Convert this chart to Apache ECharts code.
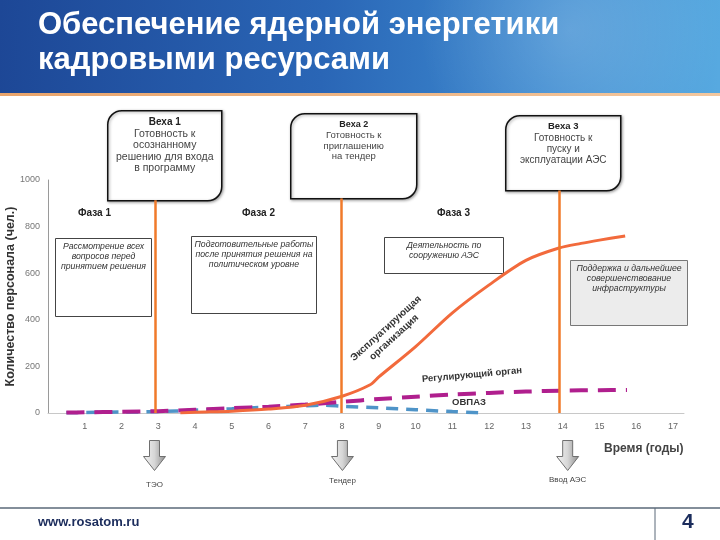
<!DOCTYPE html>
<html>
<head>
<meta charset="utf-8">
<script src="https://cdn.jsdelivr.net/npm/echarts@6/dist/echarts.min.js"></script>
<style>
  html, body { margin: 0; padding: 0; background: #fff; }
  #main { width: 720px; height: 540px; }
</style>
</head>
<body>
<div id="main"></div>
<script>
// --- data ---
const xTicks = [1, 2, 3, 4, 5, 6, 7, 8, 9, 10, 11, 12, 13, 14, 15, 16, 17];
const yTicks = [0, 200, 400, 600, 800, 1000];

// Эксплуатирующая организация
const operatorYears = [3.6, 4, 5, 6, 7, 8, 8.75, 9, 10, 11, 12, 13, 13.9, 14.5, 15, 15.7];
const operatorStaff = [0, 3, 8, 17, 33, 72, 120, 155, 285, 430, 550, 655, 708, 728, 742, 760];

// Регулирующий орган
const regulatorYears = [0.5, 1, 2, 3, 4, 5, 6, 7, 8, 9, 10, 11, 12, 13, 14, 15, 15.75];
const regulatorStaff = [2, 3, 5, 8, 14, 21, 27, 36, 48, 60, 70, 79, 86, 92, 96, 98, 99];

// ОВПАЗ
const nepioYears = [0.5, 1, 2, 3, 4, 5, 6, 7, 7.5, 8, 9, 10, 11, 11.7];
const nepioStaff = [1, 2, 4, 6, 12, 18, 25, 31, 33, 29, 22, 14, 6, 1];

// milestones (Веха 1..3): year and top of the vertical line
const milestoneYears = [2.92, 7.97, 13.9];
const milestoneTops = [913, 921, 955];

const milestoneTitles = ['Веха 1', 'Веха 2', 'Веха 3'];
const milestoneTexts = [
  'Готовность к\nосознанному\nрешению для входа\nв программу',
  'Готовность к\nприглашению\nна тендер',
  'Готовность к\nпуску и\nэксплуатации АЭС'
];
const phaseTitles = ['Фаза 1', 'Фаза 2', 'Фаза 3'];
const phaseTexts = [
  'Рассмотрение всех\nвопросов перед\nпринятием решения',
  'Подготовительные работы\nпосле принятия решения на\nполитическом уровне',
  'Деятельность по\nсооружению АЭС',
  'Поддержка и дальнейшее\nсовершенствование\nинфраструктуры'
];
const arrowLabels = ['ТЭО', 'Тендер', 'Ввод АЭС'];

const pairs = (xs, ys) => xs.map((x, i) => [x, ys[i]]);

const chart = echarts.init(document.getElementById('main'));

// rounded milestone box (top-left and bottom-right corners rounded)
function milestoneBox(x, y, w, h, title, text, fs) {
  return {
    type: 'group', left: x, top: y,
    children: [
      { type: 'rect', shape: { x: 0, y: 0, width: w, height: h, r: [14, 0, 14, 0] },
        style: { fill: '#fff', stroke: '#111', lineWidth: 1.5,
                 shadowBlur: 3, shadowOffsetX: 1, shadowOffsetY: 1, shadowColor: 'rgba(0,0,0,0.35)' } },
      { type: 'text', x: w / 2, y: 6,
        style: { text: title, font: 'bold ' + (fs - 0.5) + 'px "Liberation Sans"', fill: '#222', align: 'center' } },
      { type: 'text', x: w / 2, y: 6 + fs + 1,
        style: { text: text, font: fs + 'px "Liberation Sans"', fill: '#444', align: 'center', lineHeight: fs + 1 } }
    ]
  };
}

function phaseBox(x, y, w, h, text, fill, stroke) {
  return {
    type: 'group', left: x, top: y,
    children: [
      { type: 'rect', shape: { x: 0, y: 0, width: w, height: h },
        style: { fill: fill, stroke: stroke, lineWidth: 1 } },
      { type: 'text', x: w / 2, y: 3,
        style: { text: text, font: 'italic 8.7px "Liberation Sans"', fill: '#333', align: 'center', lineHeight: 10 } }
    ]
  };
}

function downArrow(cx, top, label, labelY) {
  return {
    type: 'group', left: cx - 12, top: top,
    children: [
      { type: 'polygon',
        shape: { points: [[7, 0], [17, 0], [17, 16], [23, 16], [12, 30], [1, 16], [7, 16]] },
        style: { fill: new echarts.graphic.LinearGradient(0, 0, 1, 0, [
                   { offset: 0, color: '#f4f4f4' }, { offset: 0.5, color: '#d6d6d6' }, { offset: 1, color: '#8c8c8c' }]),
                 stroke: '#6f6f6f', lineWidth: 1 } },
      { type: 'text', x: 12, y: labelY,
        style: { text: label, font: '8px "Liberation Sans"', fill: '#444', align: 'center' } }
    ]
  };
}

const option = {
  backgroundColor: '#fff',
  animation: false,
  grid: { left: 48, top: 180, width: 636, height: 233, containLabel: false, outerBoundsMode: 'none' },
  xAxis: {
    type: 'value', min: 0, max: 17.3, interval: 1,
    axisLine: { show: true, lineStyle: { color: '#c8c8c8', width: 1 } },
    axisTick: { show: false },
    splitLine: { show: false },
    axisLabel: {
      margin: 9, color: '#666', fontSize: 9, fontFamily: 'Liberation Sans',
      formatter: v => (xTicks.indexOf(v) >= 0 ? String(v) : '')
    }
  },
  yAxis: {
    type: 'value', min: 0, max: 1000, interval: 200,
    name: 'Количество персонала (чел.)',
    nameLocation: 'middle', nameGap: 31, nameRotate: 90, nameMoveOverlap: false,
    nameTextStyle: { color: '#333', fontSize: 12.5, fontWeight: 'bold', fontFamily: 'Liberation Sans' },
    axisLine: { show: true, lineStyle: { color: '#9a9a9a', width: 1 } },
    axisTick: { show: false },
    splitLine: { show: false },
    axisLabel: {
      margin: 8, color: '#777', fontSize: 9, fontFamily: 'Liberation Sans',
      formatter: v => (yTicks.indexOf(v) >= 0 ? String(v) : '')
    }
  },
  series: [
    {
      name: 'ОВПАЗ', type: 'line', data: pairs(nepioYears, nepioStaff),
      smooth: 0.3, symbol: 'none',
      lineStyle: { color: '#4f94c8', width: 3.5, type: [12, 8] }
    },
    {
      name: 'Регулирующий орган', type: 'line', data: pairs(regulatorYears, regulatorStaff),
      smooth: 0.3, symbol: 'none',
      lineStyle: { color: '#b01f8e', width: 4, type: [18, 10] }
    },
    {
      name: 'Эксплуатирующая организация', type: 'line', data: pairs(operatorYears, operatorStaff),
      smooth: 0.3, symbol: 'none', z: 3,
      lineStyle: { color: '#f26a3c', width: 3 },
      markLine: {
        silent: true, symbol: 'none', label: { show: false },
        lineStyle: { color: '#f07a2a', width: 2.5, type: 'solid' },
        data: milestoneYears.map((x, i) => [{ coord: [x, 0] }, { coord: [x, milestoneTops[i]] }])
      }
    }
  ],
  graphic: [
    // header
    { type: 'rect', left: 0, top: 0, shape: { width: 720, height: 93 },
      style: { fill: new echarts.graphic.LinearGradient(0, 0, 1, 0.3, [
        { offset: 0, color: '#1d4796' }, { offset: 0.45, color: '#2a66b6' },
        { offset: 0.75, color: '#3d8ad0' }, { offset: 1, color: '#57a9e0' }]) } },
    { type: 'circle', left: 420, top: -120, shape: { r: 150 },
      style: { fill: new echarts.graphic.RadialGradient(0.5, 0.5, 0.5, [
        { offset: 0, color: 'rgba(255,255,255,0.18)' }, { offset: 1, color: 'rgba(255,255,255,0)' }]) } },
    { type: 'rect', left: 0, top: 93, shape: { width: 720, height: 3 },
      style: { fill: new echarts.graphic.LinearGradient(0, 0, 1, 0, [
        { offset: 0, color: '#e9a46b' }, { offset: 1, color: '#f3c79e' }]) } },
    { type: 'text', left: 38, top: 8,
      style: { text: 'Обеспечение ядерной энергетики\nкадровыми ресурсами',
               font: 'bold 31px "Liberation Sans"', fill: '#fff', lineHeight: 35 } },

    // milestone boxes
    milestoneBox(107, 110, 114, 90, milestoneTitles[0], milestoneTexts[0], 10.5),
    milestoneBox(290, 113, 126, 85, milestoneTitles[1], milestoneTexts[1], 9.5),
    milestoneBox(505, 115, 115, 75, milestoneTitles[2], milestoneTexts[2], 10),

    // phase titles
    { type: 'text', left: 78, top: 208, style: { text: phaseTitles[0], font: 'bold 10px "Liberation Sans"', fill: '#222' } },
    { type: 'text', left: 242, top: 208, style: { text: phaseTitles[1], font: 'bold 10px "Liberation Sans"', fill: '#222' } },
    { type: 'text', left: 437, top: 208, style: { text: phaseTitles[2], font: 'bold 10px "Liberation Sans"', fill: '#222' } },

    // phase boxes
    phaseBox(55, 238, 96, 78, phaseTexts[0], '#fff', '#444'),
    phaseBox(191, 236, 125, 77, phaseTexts[1], '#fff', '#444'),
    phaseBox(384, 237, 119, 36, phaseTexts[2], '#fff', '#444'),
    phaseBox(570, 260, 117, 65, phaseTexts[3], '#ececec', '#777'),

    // series labels
    { type: 'text', x: 390, y: 333, rotation: 0.74,
      style: { text: 'Эксплуатирующая\nорганизация', font: 'bold 10px "Liberation Sans"', fill: '#333',
               align: 'center', verticalAlign: 'middle', lineHeight: 12 } },
    { type: 'text', x: 472, y: 375, rotation: 0.09,
      style: { text: 'Регулирующий орган', font: 'bold 9.5px "Liberation Sans"', fill: '#333',
               align: 'center', verticalAlign: 'middle' } },
    { type: 'text', x: 469, y: 402,
      style: { text: 'ОВПАЗ', font: 'bold 9.5px "Liberation Sans"', fill: '#333',
               align: 'center', verticalAlign: 'middle' } },

    // time axis title
    { type: 'text', left: 604, top: 443, style: { text: 'Время (годы)', font: 'bold 12px "Liberation Sans"', fill: '#444' } },

    // arrows
    downArrow(155, 440, arrowLabels[0], 40),
    downArrow(341, 440, arrowLabels[1], 36),
    downArrow(561, 440, arrowLabels[2], 35),

    // footer
    { type: 'line', shape: { x1: 0, y1: 508, x2: 720, y2: 508 }, style: { stroke: '#5a6878', lineWidth: 1.5 } },
    { type: 'line', shape: { x1: 655, y1: 508, x2: 655, y2: 540 }, style: { stroke: '#5a6878', lineWidth: 1 } },
    { type: 'text', left: 38, top: 516, style: { text: 'www.rosatom.ru', font: 'bold 13px "Liberation Sans"', fill: '#1b2c5c' } },
    { type: 'text', left: 682, top: 512, style: { text: '4', font: 'bold 21px "Liberation Sans"', fill: '#1b2c5c' } }
  ]
};

chart.setOption(option);
</script>
</body>
</html>
